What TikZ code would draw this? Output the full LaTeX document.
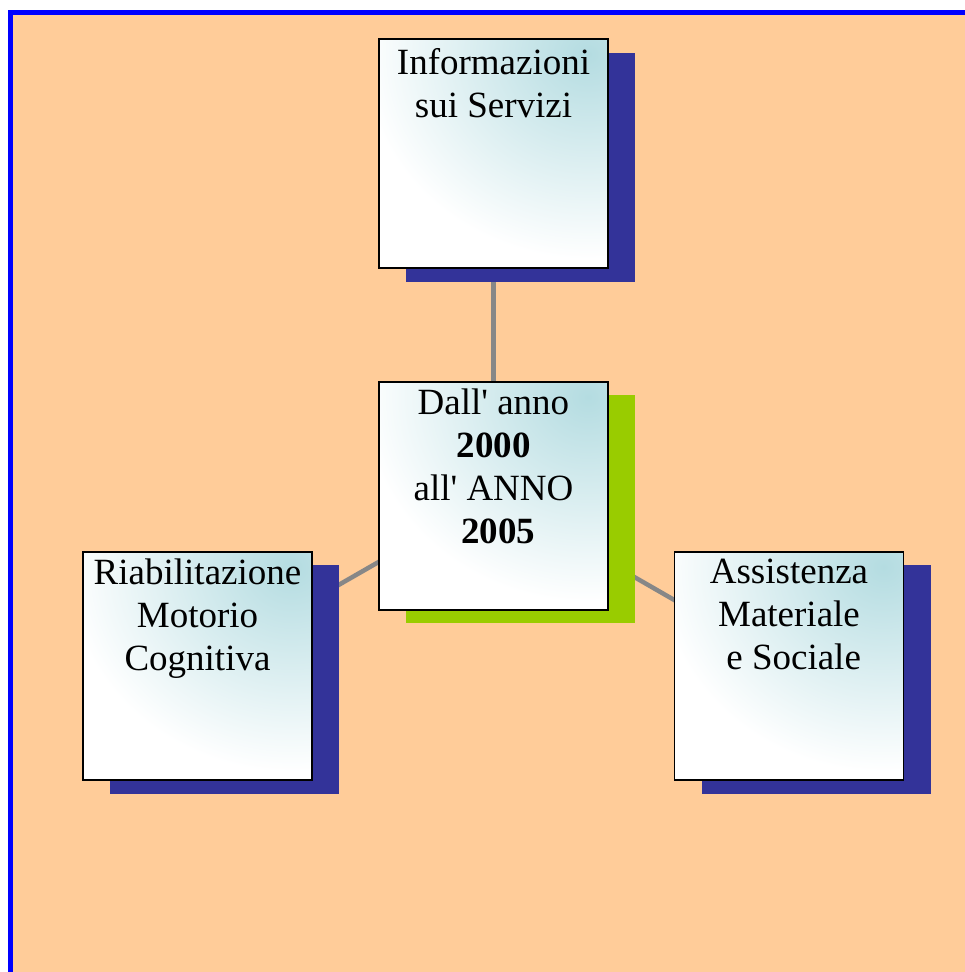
\documentclass[tikz,border=0pt]{standalone}
\usepackage{fontspec}
\setmainfont{Liberation Serif}
\definecolor{peach}{HTML}{FFCC99}
\definecolor{frameblue}{HTML}{0000FF}
\definecolor{shadowblue}{HTML}{333399}
\definecolor{shadowgreen}{HTML}{99CC00}
\definecolor{boxcyan}{HTML}{B4DCE1}
\definecolor{linkgrey}{HTML}{878787}
\pgfdeclarelayer{bg}
\pgfdeclarelayer{links}
\pgfsetlayers{bg,links,main}
\tikzset{
  card/.style={draw=black, line width=1.8pt, minimum width=229pt, minimum height=228pt, inner sep=0pt,
    path picture={
      \fill[white] (path picture bounding box.south west) rectangle (path picture bounding box.north east);
      \shade[inner color=boxcyan, outer color=white] ([xshift=-20pt,yshift=-15pt]path picture bounding box.north east) ellipse (225pt and 205pt);
    }},
  bshadow/.style={fill=shadowblue, minimum width=229pt, minimum height=229pt, inner sep=0pt, draw=none},
  gshadow/.style={fill=shadowgreen, minimum width=229pt, minimum height=228pt, inner sep=0pt, draw=none},
  cardtext/.style={anchor=north, inner sep=0pt, align=center, font=\fontsize{37}{43}\selectfont, text=black},
  link/.style={draw=linkgrey, line width=4.5pt}
}
\begin{document}
\begin{tikzpicture}[x=1pt,y=-1pt]
\useasboundingbox (0,0) rectangle (965,972);
\clip (0,0) rectangle (965,972);
% shadows
\node[bshadow] (topsh) at (520.5,167.5) {};
\node[gshadow] (midsh) at (520.5,509) {};
\node[bshadow] (leftsh) at (224.5,679.5) {};
\node[bshadow] (rightsh) at (816,679.5) {};
% boxes
\node[card, minimum height=229pt] (top) at (493.5,153.5) {};
\node[card] (mid) at (493.5,496) {};
\node[card] (left) at (197.5,666) {};
\node[card] (right) at (789,666) {};
% texts
\node[cardtext] (toptxt) at ([yshift=-10pt]top.north) {Informazioni\\sui Servizi};
\node[cardtext] (midtxt) at ([yshift=-8pt]mid.north) {Dall\textquotesingle{} anno\\\textbf{2000}\\all\textquotesingle{} ANNO\\\mbox{}\ \textbf{2005}};
\node[cardtext] (lefttxt) at ([yshift=-8pt]left.north) {Riabilitazione\\Motorio\\Cognitiva};
\node[cardtext] (righttxt) at ([yshift=-8pt]right.north) {Assistenza\\Materiale\\\mbox{}\ e Sociale};
\begin{pgfonlayer}{bg}
  \draw[frameblue, fill=peach, line width=5pt] (10.5,12.5) rectangle (1000,1000);
\end{pgfonlayer}
\begin{pgfonlayer}{links}
  \draw[link] (top.center) -- (mid.center);
  \draw[link] (left.center) -- (mid.center);
  \draw[link] (right.center) -- (mid.center);
\end{pgfonlayer}
\end{tikzpicture}
\end{document}
